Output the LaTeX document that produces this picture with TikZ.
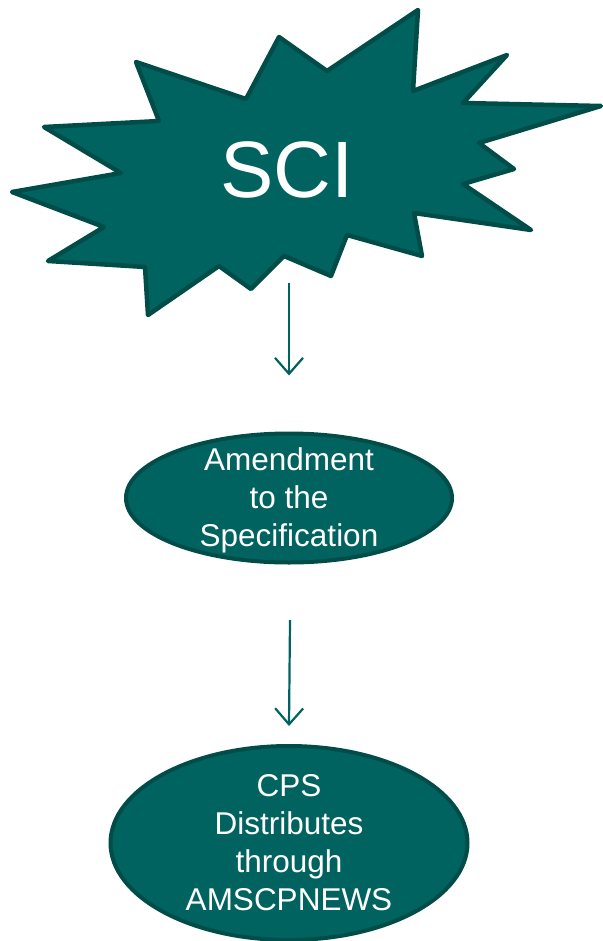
\documentclass[tikz,border=0pt]{standalone}
\usepackage{fontspec}
\setmainfont{Liberation Sans}
\usetikzlibrary{arrows.meta,shapes.geometric}

\definecolor{teal}{RGB}{0,99,95}
\definecolor{tealdark}{RGB}{0,76,72}

\begin{document}
\begin{tikzpicture}[x=1pt, y=-1pt, flow/.style = {draw=teal, line width=2.2pt, -{Straight Barb[length=16pt,width=28pt,line width=2.2pt]}}, stage/.style = {ellipse, draw=tealdark, fill=teal, line width=4pt, inner sep=0pt}, stagetext/.style = {text=white, align=center, font=\fontsize{31.5}{38}\selectfont}]

    \useasboundingbox (0,0) rectangle (602,941);

    % burst
    \filldraw[fill=teal, draw=tealdark, line width=4.5pt, line join=round]
        (418,10) -- (413,91) -- (507,55) -- (463,103) -- (601,106) -- (479,143)
        -- (514,169) -- (463,184) -- (531,230) -- (414,213) -- (422,256)
        -- (347,235) -- (331,276) -- (284,256) -- (251,289) -- (219,266)
        -- (148,315) -- (145,267) -- (48,261) -- (104,227) -- (12,192)
        -- (121,173) -- (44,127) -- (159,121) -- (136,62) -- (246,99)
        -- (279,37) -- (327,71) -- cycle;
    \node[text=white, font=\fontsize{80}{96}\selectfont] (sci) at (287,170) {SCI};

    % stages
    \node[stage, minimum width=326pt, minimum height=129pt, label={[stagetext, yshift=-2pt]center:Amendment\\to the\\Specification}] (amend) at (289,498) {};
    \node[stage, minimum width=357pt, minimum height=194pt, label={[stagetext]center:CPS\\Distributes\\through\\AMSCPNEWS}] (cps) at (289,843) {};

    % arrows
    \coordinate (sciout) at (289,283);
    \coordinate (amendout) at (290,620);
    \draw[flow] (sciout) -- ([yshift=56pt]amend.north);
    \draw[flow] (amendout) -- ([yshift=18pt]cps.north);

\end{tikzpicture}
\end{document}
